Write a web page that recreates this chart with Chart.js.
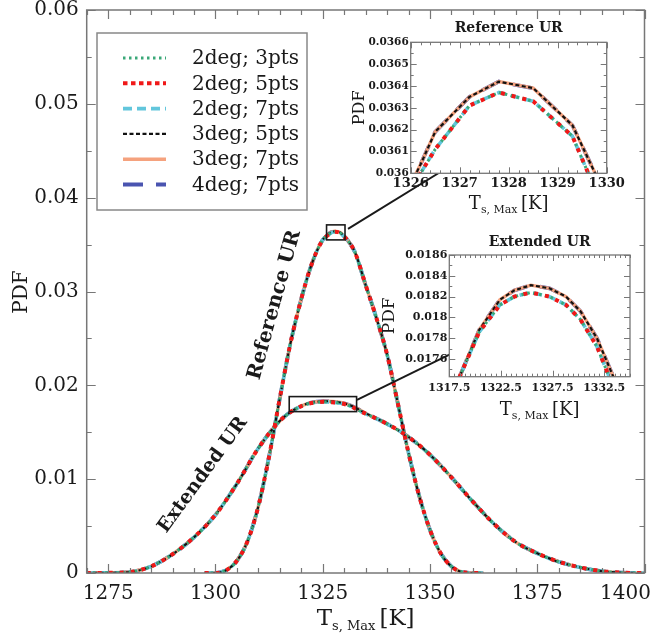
<!DOCTYPE html>
<html>
<head>
<meta charset="utf-8">
<script src="https://cdn.jsdelivr.net/npm/chart.js@4.4.1/dist/chart.umd.min.js"></script>
<style>
  html, body { margin: 0; padding: 0; background: #fff; }
  #wrap { position: relative; width: 652px; height: 634px; }
  #main { position: absolute; left: 0; top: 0; }
  #insetRef { position: absolute; left: 340px; top: 10px; }
  #insetExt { position: absolute; left: 380px; top: 225px; }
</style>
</head>
<body>
<div id="wrap">
  <canvas id="main" width="652" height="634"></canvas>
  <canvas id="insetRef" width="300" height="205"></canvas>
  <canvas id="insetExt" width="260" height="200"></canvas>
</div>
<script>
// series shown in the legend, and which fit group each one follows
var seriesNames = ["2deg; 3pts", "2deg; 5pts", "2deg; 7pts", "3deg; 5pts", "3deg; 7pts", "4deg; 7pts"];
var seriesFit = ["2deg", "2deg", "2deg", "3deg", "3deg", "3deg"];

// Reference UR curve (T in K, PDF)
var refT = [1297.5, 1300, 1302.5, 1305, 1307.5, 1310, 1312.5, 1315, 1317.5, 1320, 1322.5, 1325,
  1326.2, 1326.5, 1327.2, 1327.8, 1328.5, 1329.3, 1329.7, 1330.5,
  1332.5, 1335, 1337.5, 1340, 1342.5, 1345, 1347.5, 1350, 1352.5, 1355, 1357.5, 1360, 1362.5];
var refPdf2deg = [0, 0, 0.0003, 0.0013, 0.0034, 0.0071, 0.0124, 0.0186, 0.0245, 0.0292, 0.0330, 0.0355,
  0.03600, 0.03611, 0.03631, 0.03637, 0.03633, 0.03617, 0.03596, 0.03561,
  0.0342, 0.0307, 0.0272, 0.0233, 0.0181, 0.0128, 0.0082, 0.0046, 0.0021, 0.0007, 0.0001, 0, 0];
var refPdf3deg = [0, 0, 0.0003, 0.0013, 0.0034, 0.0071, 0.0124, 0.0186, 0.0245, 0.0292, 0.0330, 0.0355,
  0.03604, 0.03619, 0.03635, 0.03642, 0.03639, 0.03622, 0.03603, 0.03566,
  0.0342, 0.0307, 0.0272, 0.0233, 0.0181, 0.0128, 0.0082, 0.0046, 0.0021, 0.0007, 0.0001, 0, 0];

// Extended UR curve
var extT = [1270, 1275, 1280, 1285, 1290, 1295, 1300, 1305, 1310, 1315, 1317.5,
  1318.5, 1320.4, 1322.4, 1323.8, 1325.4, 1327.2, 1328.8, 1330.2, 1331.8, 1333.3,
  1335, 1340, 1345, 1350, 1355, 1360, 1365, 1370, 1375, 1380, 1385, 1390, 1395, 1400];
var extPdf2deg = [0, 0.00002, 0.0001, 0.0007, 0.0020, 0.0038, 0.0062, 0.0095, 0.0133, 0.0162, 0.01715,
  0.01743, 0.01786, 0.01812, 0.01820, 0.01824, 0.01820, 0.01812, 0.01798, 0.01772, 0.01735,
  0.01698, 0.0159, 0.0145, 0.0126, 0.0102, 0.0076, 0.0052, 0.0033, 0.0021, 0.0012, 0.0006, 0.0002, 0.00003, 0];
var extPdf3deg = [0, 0.00002, 0.0001, 0.0007, 0.0020, 0.0038, 0.0062, 0.0095, 0.0133, 0.0162, 0.01715,
  0.01743, 0.01788, 0.01817, 0.01826, 0.01831, 0.01828, 0.01820, 0.01806, 0.01780, 0.01745,
  0.01703, 0.0159, 0.0145, 0.0126, 0.0102, 0.0076, 0.0052, 0.0033, 0.0021, 0.0012, 0.0006, 0.0002, 0.00003, 0];

// tick labels
var mainXTicks = [1275, 1300, 1325, 1350, 1375, 1400];
var mainYTicks = [0, 0.01, 0.02, 0.03, 0.04, 0.05, 0.06];
var refXTicks = [1326, 1327, 1328, 1329, 1330];
var refYTicks = [0.036, 0.0361, 0.0362, 0.0363, 0.0364, 0.0365, 0.0366];
var extXTicks = [1317.5, 1322.5, 1327.5, 1332.5];
var extYTicks = [0.0176, 0.0178, 0.018, 0.0182, 0.0184, 0.0186];

// line styles
var lineColors = ["#3aa878", "#f01818", "#62c6dc", "#111111", "#f5a27e", "#4a54b0"];
var lineDash = [[2.5, 3.5], [4, 7], [9, 5], [4, 2.5], [], [20, 13]];
var lineWidth = [3, 4, 3.6, 2.2, 3.4, 3.8];
var drawOrder = [1, 0, 3, 2, 4, 5];

var serif = "'DejaVu Serif', 'Liberation Serif', serif";

var curves = {
  ref: { t: refT, pdf: { "2deg": refPdf2deg, "3deg": refPdf3deg } },
  ext: { t: extT, pdf: { "2deg": extPdf2deg, "3deg": extPdf3deg } }
};

function makeDatasets(keys, smooth) {
  var sets = [];
  keys.forEach(function (key) {
    var c = curves[key];
    seriesNames.forEach(function (name, i) {
      var ys = c.pdf[seriesFit[i]];
      sets.push({
        label: name,
        data: c.t.map(function (t, k) { return { x: t, y: ys[k] }; }),
        borderColor: lineColors[i],
        borderDash: lineDash[i],
        borderWidth: lineWidth[i],
        pointRadius: 0,
        fill: false,
        order: drawOrder[i],
        cubicInterpolationMode: smooth ? "monotone" : "default",
        tension: 0,
        clip: smooth ? undefined : 0
      });
    });
  });
  return sets;
}

// frame with inward ticks on all four sides
var frameTicks = {
  id: "frameTicks",
  beforeDatasetsDraw: function (chart, args, o) {
    if (!o.fill) return;
    var a = chart.chartArea, ctx = chart.ctx;
    ctx.save();
    ctx.fillStyle = o.fill;
    ctx.fillRect(a.left, a.top, a.right - a.left, a.bottom - a.top);
    ctx.restore();
  },
  afterDraw: function (chart, args, o) {
    var ctx = chart.ctx, a = chart.chartArea;
    var xs = chart.scales.x, ys = chart.scales.y;
    function isMajor(scale, v) {
      return scale.ticks.some(function (t) { return Math.abs(t.value - v) < 1e-9 * Math.max(1, Math.abs(v)); });
    }
    function minors(scale, step) {
      var base = scale.ticks[0].value, out = [];
      var k0 = Math.ceil((scale.min - base) / step - 1e-6), k1 = Math.floor((scale.max - base) / step + 1e-6);
      for (var k = k0; k <= k1; k++) out.push(base + k * step);
      return out;
    }
    ctx.save();
    ctx.strokeStyle = o.color;
    ctx.lineWidth = o.width;
    ctx.beginPath();
    minors(xs, o.xMinor).forEach(function (v) {
      var p = Math.round(xs.getPixelForValue(v)) + 0.5;
      var len = isMajor(xs, v) ? o.major : o.minor;
      ctx.moveTo(p, a.bottom); ctx.lineTo(p, a.bottom - len);
      ctx.moveTo(p, a.top); ctx.lineTo(p, a.top + len);
    });
    minors(ys, o.yMinor).forEach(function (v) {
      var p = Math.round(ys.getPixelForValue(v)) + 0.5;
      var len = isMajor(ys, v) ? o.major : o.minor;
      ctx.moveTo(a.left, p); ctx.lineTo(a.left + len, p);
      ctx.moveTo(a.right, p); ctx.lineTo(a.right - len, p);
    });
    ctx.stroke();
    ctx.lineWidth = o.frame;
    ctx.strokeRect(a.left, a.top, a.right - a.left, a.bottom - a.top);
    ctx.restore();
  }
};

// T_{s, Max} [K] with a real subscript
function drawTsMax(ctx, cx, baseline, big, small, weight) {
  var w = weight || "normal";
  var parts = [["T", big, 0], ["s, Max ", small, big * 0.22], ["[K]", big, 0]];
  var total = 0;
  parts.forEach(function (p) { ctx.font = w + " " + p[1] + "px " + serif; p.push(ctx.measureText(p[0]).width); total += p[3]; });
  var x = cx - total / 2;
  ctx.textAlign = "left";
  ctx.textBaseline = "alphabetic";
  parts.forEach(function (p) {
    ctx.font = w + " " + p[1] + "px " + serif;
    ctx.fillText(p[0], x, baseline + p[2]);
    x += p[3];
  });
}

function arrow(ctx, x0, y0, x1, y1) {
  var ang = Math.atan2(y1 - y0, x1 - x0), L = 15, H = 6;
  var bx = x1 - L * Math.cos(ang), by = y1 - L * Math.sin(ang);
  ctx.beginPath();
  ctx.moveTo(x0, y0); ctx.lineTo(bx, by);
  ctx.stroke();
  ctx.beginPath();
  ctx.moveTo(x1, y1);
  ctx.lineTo(bx + H * Math.sin(ang), by - H * Math.cos(ang));
  ctx.lineTo(bx - H * Math.sin(ang), by + H * Math.cos(ang));
  ctx.closePath();
  ctx.fill();
}

var mainNotes = {
  id: "mainNotes",
  afterDatasetsDraw: function (chart) {
    var ctx = chart.ctx, xs = chart.scales.x, ys = chart.scales.y;
    function px(v) { return xs.getPixelForValue(v); }
    function py(v) { return ys.getPixelForValue(v); }
    ctx.save();
    ctx.strokeStyle = "#1a1a1a"; ctx.fillStyle = "#1a1a1a"; ctx.lineWidth = 1.6;
    ctx.strokeRect(px(1325.9), py(0.0371), px(1330.2) - px(1325.9), py(0.0355) - py(0.0371));
    ctx.strokeRect(px(1317.2), py(0.0188), px(1332.9) - px(1317.2), py(0.0172) - py(0.0188));
    ctx.lineWidth = 2;
    arrow(ctx, px(1330.9), py(0.03667), px(1358.9), py(0.04456));
    arrow(ctx, px(1333.0), py(0.01844), px(1359.1), py(0.0243));
    ctx.textAlign = "center"; ctx.textBaseline = "middle";
    ctx.font = "bold 20px " + serif;
    ctx.translate(px(1313.8), py(0.02857)); ctx.rotate(-74.6 * Math.PI / 180);
    ctx.fillText("Reference UR", 0, 0);
    ctx.setTransform(1, 0, 0, 1, 0, 0);
    ctx.font = "bold 19px " + serif;
    ctx.translate(px(1297.1), py(0.01045)); ctx.rotate(-53.9 * Math.PI / 180);
    ctx.fillText("Extended UR", 0, 0);
    ctx.restore();
  },
  afterDraw: function (chart) {
    var ctx = chart.ctx, a = chart.chartArea;
    ctx.save();
    // legend
    ctx.fillStyle = "#fff"; ctx.strokeStyle = "#888"; ctx.lineWidth = 1.5;
    ctx.fillRect(97, 33, 210, 177); ctx.strokeRect(97, 33, 210, 177);
    ctx.font = "20px " + serif; ctx.textAlign = "left"; ctx.textBaseline = "middle";
    seriesNames.forEach(function (name, i) {
      var ds = chart.data.datasets[i], y = 58 + i * 25.3;
      ctx.save();
      ctx.strokeStyle = ds.borderColor; ctx.lineWidth = ds.borderWidth;
      ctx.setLineDash(i === 1 ? [4.5, 3.5] : ds.borderDash);
      ctx.beginPath(); ctx.moveTo(123, y); ctx.lineTo(166, y); ctx.stroke();
      ctx.restore();
      ctx.fillStyle = "#1a1a1a";
      ctx.fillText(name, 192, y + 1);
    });
    // axis titles
    ctx.fillStyle = "#1a1a1a";
    drawTsMax(ctx, (a.left + a.right) / 2, 625, 23, 13);
    ctx.font = "20px " + serif; ctx.textAlign = "center"; ctx.textBaseline = "middle";
    ctx.translate(22, 292); ctx.rotate(-Math.PI / 2);
    ctx.fillText("PDF", 0, 0);
    ctx.restore();
  }
};

function insetNotes(title, titleY, pdfX, pdfSize, xtY, tSize, sSize) {
  return {
    id: "insetNotes",
    afterDraw: function (chart) {
      var ctx = chart.ctx, a = chart.chartArea, cx = (a.left + a.right) / 2;
      ctx.save();
      ctx.fillStyle = "#1a1a1a";
      ctx.font = "bold 14px " + serif; ctx.textAlign = "center"; ctx.textBaseline = "middle";
      ctx.fillText(title, cx, titleY);
      drawTsMax(ctx, cx, xtY, tSize, sSize);
      ctx.font = pdfSize + "px " + serif; ctx.textAlign = "center"; ctx.textBaseline = "middle";
      ctx.translate(pdfX, (a.top + a.bottom) / 2); ctx.rotate(-Math.PI / 2);
      ctx.fillText("PDF", 0, 0);
      ctx.restore();
    }
  };
}

function fixedTicks(list) {
  return function (scale) { scale.ticks = list.map(function (v) { return { value: v }; }); };
}
function trimNum(v) { return String(parseFloat(v.toFixed(5))); }

var mainChart = new Chart("main", {
  type: "line",
  data: { datasets: makeDatasets(["ref", "ext"], true) },
  options: {
    responsive: false,
    animation: false,
    layout: { padding: { top: 10, right: 7.5, left: 0, bottom: 0 } },
    plugins: {
      legend: { display: false },
      tooltip: { enabled: false },
      frameTicks: { color: "#777", width: 1.2, frame: 1.5, major: 9, minor: 5, xMinor: 5, yMinor: 0.005 }
    },
    scales: {
      x: {
        type: "linear", min: 1270, max: 1400,
        grid: { display: false, drawTicks: false }, border: { display: false },
        afterBuildTicks: fixedTicks(mainXTicks),
        afterFit: function (s) { s.height = 61; s.paddingLeft = 0; s.paddingRight = 0; },
        ticks: {
          autoSkip: false, maxRotation: 0, padding: 9, color: "#1a1a1a",
          font: { family: serif, size: 20 },
          callback: function (v) { return v === 1400 ? "1400      " : String(v); }
        }
      },
      y: {
        type: "linear", min: 0, max: 0.06,
        grid: { display: false, drawTicks: false }, border: { display: false },
        afterBuildTicks: fixedTicks(mainYTicks),
        afterFit: function (s) { s.width = 86.7; s.paddingTop = 0; s.paddingBottom = 0; },
        ticks: {
          padding: 8, color: "#1a1a1a",
          font: { family: serif, size: 20 },
          callback: function (v) { return v === 0 ? "0" : v.toFixed(2); }
        }
      }
    }
  },
  plugins: [frameTicks, mainNotes]
});

var refChart = new Chart("insetRef", {
  type: "line",
  data: { datasets: makeDatasets(["ref"], false) },
  options: {
    responsive: false,
    animation: false,
    layout: { padding: { top: 32.3, right: 33.3, left: 0, bottom: 0 } },
    plugins: {
      legend: { display: false },
      tooltip: { enabled: false },
      frameTicks: { fill: "#fff", color: "#777", width: 1, frame: 1.3, major: 6, minor: 3, xMinor: 0.2, yMinor: 0.00005 }
    },
    scales: {
      x: {
        type: "linear", min: 1326, max: 1330,
        grid: { display: false, drawTicks: false }, border: { display: false },
        afterBuildTicks: fixedTicks(refXTicks),
        afterFit: function (s) { s.height = 41.7; s.paddingLeft = 0; s.paddingRight = 0; },
        ticks: { autoSkip: false, maxRotation: 0, padding: 3, color: "#1a1a1a", font: { family: serif, size: 13, weight: "bold" }, callback: function (v) { return String(v); } }
      },
      y: {
        type: "linear", min: 0.036, max: 0.0366,
        grid: { display: false, drawTicks: false }, border: { display: false },
        afterBuildTicks: fixedTicks(refYTicks),
        afterFit: function (s) { s.width = 70.7; s.paddingTop = 0; s.paddingBottom = 0; },
        ticks: { padding: 2, color: "#1a1a1a", font: { family: serif, size: 10.5, weight: "bold" }, callback: trimNum }
      }
    }
  },
  plugins: [frameTicks, insetNotes("Reference UR", 18, 20, 16, 199, 18, 11)]
});

var extChart = new Chart("insetExt", {
  type: "line",
  data: { datasets: makeDatasets(["ext"], false) },
  options: {
    responsive: false,
    animation: false,
    layout: { padding: { top: 30, right: 10, left: 0, bottom: 0 } },
    plugins: {
      legend: { display: false },
      tooltip: { enabled: false },
      frameTicks: { fill: "#fff", color: "#777", width: 1, frame: 1.3, major: 6, minor: 3, xMinor: 0.5, yMinor: 0.0001 }
    },
    scales: {
      x: {
        type: "linear", min: 1317.5, max: 1335,
        grid: { display: false, drawTicks: false }, border: { display: false },
        afterBuildTicks: fixedTicks(extXTicks),
        afterFit: function (s) { s.height = 48.3; s.paddingLeft = 0; s.paddingRight = 0; },
        ticks: { autoSkip: false, maxRotation: 0, padding: 5, color: "#1a1a1a", font: { family: serif, size: 11, weight: "bold" }, callback: function (v) { return v.toFixed(1); } }
      },
      y: {
        type: "linear", min: 0.01743, max: 0.0186,
        grid: { display: false, drawTicks: false }, border: { display: false },
        afterBuildTicks: fixedTicks(extYTicks),
        afterFit: function (s) { s.width = 69.3; s.paddingTop = 0; s.paddingBottom = 0; },
        ticks: { padding: 2, color: "#1a1a1a", font: { family: serif, size: 11, weight: "bold" }, callback: trimNum }
      }
    }
  },
  plugins: [frameTicks, insetNotes("Extended UR", 17, 10, 17, 190, 18, 11)]
});
</script>
</body>
</html>
